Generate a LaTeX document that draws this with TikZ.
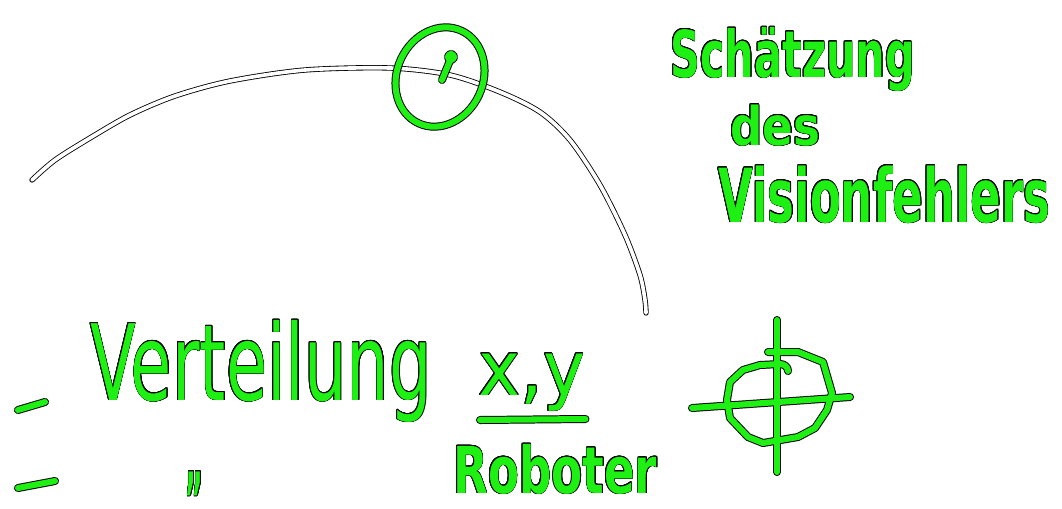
\documentclass[tikz,border=0pt]{standalone}
\usepackage{fontspec}
\setmainfont{DejaVu Sans}
\usepackage{graphicx}
\usepackage{contour}
\contourlength{0.6pt}
\definecolor{pengreen}{RGB}{30,240,20}
\newcommand{\penword}[2]{{\color{pengreen}\resizebox{#1}{\height}{\contour{black}{#2}}}}

\begin{document}
\begin{tikzpicture}[x=0.025cm,y=-0.025cm,
  rail/.style={draw=black,double=white,double distance=2.6pt,line width=0.6pt,line cap=round,line join=round},
  word/.style={anchor=base west,inner sep=0pt}]
\useasboundingbox (0,0) rectangle (1062,508);
\draw[rail] plot[smooth] coordinates {(32,180) (55,160) (90,138) (130,115) (175,96) (230,81) (305,70) (390,68) (450,75) (500,92) (540,112) (570,140) (600,185) (625,235) (640,275) (645,300) (646,313)};

\node[word,font=\bfseries\fontsize{46}{50}\selectfont] (est) at (670,77) {\penword{174pt}{Schätzung}};
\node[word,font=\bfseries\fontsize{38}{40}\selectfont] (des) at (730,145) {\penword{64pt}{des}};
\node[word,font=\bfseries\fontsize{53}{56}\selectfont] (err) at (718,222) {\penword{236pt}{Visionfehlers}};
\node[word,font=\fontsize{75}{80}\selectfont] (dist) at (90,400) {\penword{243pt}{Verteilung}};
\node[word,font=\fontsize{54}{56}\selectfont] (xy) at (478,395) {\penword{76pt}{x,y}};
\node[word,font=\bfseries\fontsize{46}{50}\selectfont] (robot) at (453,493) {\penword{145pt}{Roboter}};
\node[inner sep=0pt,font=\bfseries\fontsize{55}{58}\selectfont] (ditto) at (195,484) {\penword{13pt}{„}};

\newcommand{\penstrokes}{%
  \draw[rotate around={-25:(440,77)}] (440,77) ellipse[x radius=43,y radius=51];
  \draw (442,80) -- (451,58);
  \draw (451,57) circle[radius=3];
  \draw (18,410) -- (45,402);
  \draw (18,488) -- (55,481);
  \draw ([shift={(2,25)}]xy.base west) -- ([shift={(0,24)}]xy.base east);
  \draw (777,320) -- (777,472);
  \draw (692,408) -- (850,397);
  \draw (768,352) -- (798,352) -- (823,362) -- (832,393) -- (827,410) -- (815,428) -- (798,437) -- (763,443) -- (748,437) -- (730,418) -- (727,400) -- (730,382) -- (743,370) -- (760,365) -- (780,364) to[out=0,in=90] (788,371);
}
\begin{scope}[draw=black,line width=5.7pt,line cap=round,line join=round]
\penstrokes
\end{scope}
\begin{scope}[draw=pengreen,line width=4.3pt,line cap=round,line join=round]
\penstrokes
\end{scope}
\end{tikzpicture}
\end{document}
